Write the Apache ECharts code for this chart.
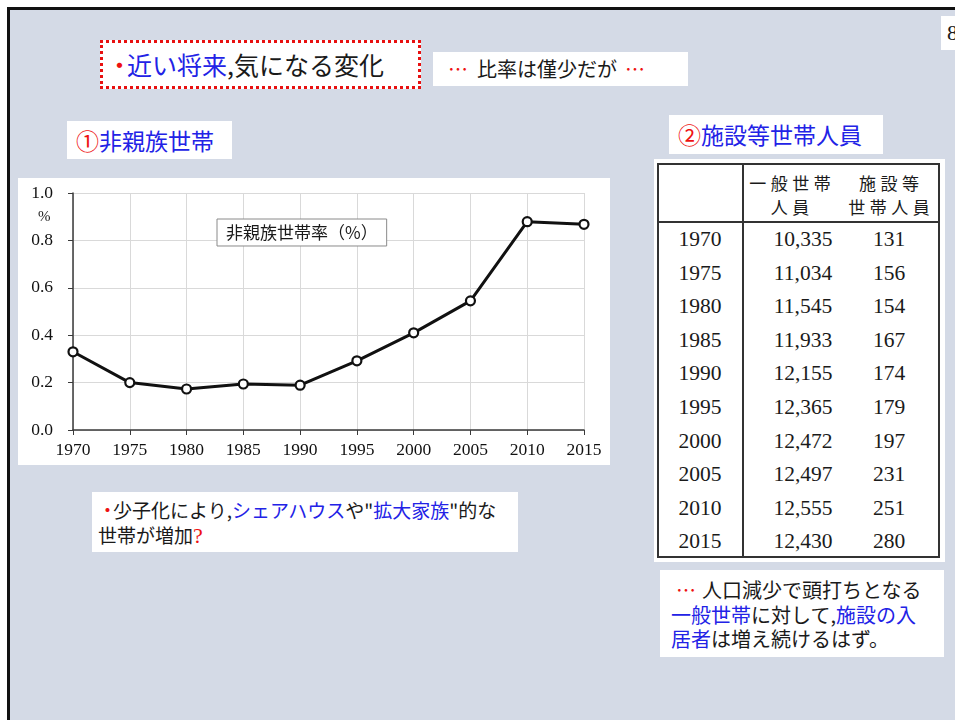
<!DOCTYPE html>
<html>
<head>
<meta charset="utf-8">
<script src="https://cdn.jsdelivr.net/npm/echarts@6/dist/echarts.min.js"></script>
<style>
  html, body { margin:0; padding:0; width:955px; height:720px; overflow:hidden; background:#fff; }
  #slide { position:absolute; left:7px; top:7px; width:1000px; height:760px; border:3px solid #111; background:#d4dae6; }
  .abs { position:absolute; }
  .box { position:absolute; background:#fff; box-sizing:border-box; }
  .jp { font-family:"Noto Sans CJK JP", "Noto Sans", sans-serif; color:#1a1a1a; }
  .blue { color:#2222e6; }
  .red { color:#ee1111; }
  .serif { font-family:"Liberation Serif", "DejaVu Serif", serif; color:#1a1a1a; }
  #chart { position:absolute; left:18px; top:178px; width:592px; height:287px; background:#fff; }
</style>
</head>
<body>
<div id="slide"></div>

<!-- title -->
<div class="box jp" style="left:100px;top:40px;width:321px;height:49px;border:3px dotted #e81010;font-size:25px;line-height:43px;padding-left:4px;white-space:nowrap;">
  <span class="red" style="letter-spacing:-5px;">・</span><span class="blue">近い将来</span>,気になる変化
</div>
<div class="box jp" style="left:433px;top:52px;width:255px;height:34px;font-size:20px;line-height:34px;padding-left:15px;white-space:nowrap;">
  <span class="red">…</span><span style="margin-left:9px;">比率は僅少だが</span><span class="red" style="margin-left:8px;">…</span>
</div>
<div class="box jp" style="left:67px;top:121px;width:165px;height:38px;font-size:23px;line-height:38px;padding-left:9px;white-space:nowrap;">
  <span class="red">①</span><span class="blue">非親族世帯</span>
</div>
<div class="box jp" style="left:669px;top:115px;width:214px;height:39px;font-size:23px;line-height:39px;padding-left:9px;white-space:nowrap;">
  <span class="red">②</span><span class="blue">施設等世帯人員</span>
</div>
<div class="box serif" style="left:941px;top:16px;width:30px;height:34px;font-size:22px;line-height:34px;padding-left:6px;">8</div>

<div id="chart"></div>

<div class="box jp" style="left:92px;top:492px;width:426px;height:60px;font-size:19px;line-height:25px;padding-top:5px;padding-left:6px;white-space:nowrap;">
  <span class="red" style="letter-spacing:-4px;">・</span>少子化により,<span class="blue">シェアハウス</span>や"<span class="blue">拡大家族</span>"的な<br>世帯が増加<span class="red" style="font-family:'Liberation Serif',serif;font-size:22px;">?</span>
</div>

<!-- table -->
<div class="box" style="left:654px;top:159px;width:291px;height:403px;"></div>
<div id="table" class="abs" style="left:657px;top:163px;width:283px;height:395px;border:2px solid #333;box-sizing:border-box;"></div>

<div class="box jp" style="left:660px;top:570px;width:284px;height:87px;font-size:20px;line-height:24.5px;padding-top:8px;padding-left:11px;white-space:nowrap;">
  <span class="red" style="margin-left:5px;">…</span><span style="margin-left:6px;">人口減少で頭打ちとなる</span><br><span class="blue">一般世帯</span>に対して,<span class="blue">施設の入</span><br><span class="blue">居者</span>は増え続けるはず。
</div>

<script>
// ---- data ----
const years = ['1970','1975','1980','1985','1990','1995','2000','2005','2010','2015'];
const nonKinRate = [0.330, 0.200, 0.173, 0.194, 0.189, 0.292, 0.410, 0.545, 0.879, 0.868];
const yTicks = [0, 0.2, 0.4, 0.6, 0.8, 1.0];
const generalHouseholdMembers = [10335, 11034, 11545, 11933, 12155, 12365, 12472, 12497, 12555, 12430];
const facilityHouseholdMembers = [131, 156, 154, 167, 174, 179, 197, 231, 251, 280];
const tableHeader2 = ['一般世帯', '人員'];
const tableHeader3 = ['施設等', '世帯人員'];
const seriesName = '非親族世帯率（%）';

// ---- table ----
(function buildTable(){
  const t = document.getElementById('table');
  const fmt = n => n.toString().replace(/\B(?=(\d{3})+(?!\d))/g, ',');
  let html = '';
  html += '<div class="abs" style="left:0;top:56px;width:279px;height:2px;background:#333;"></div>';
  html += '<div class="abs" style="left:83px;top:0;width:2px;height:391px;background:#333;"></div>';
  const hdr = (lines, cx) => lines.map((s,i) =>
    '<div class="abs jp" style="left:'+(cx-70)+'px;width:140px;text-align:center;top:'+(6+i*24)+'px;font-size:17px;line-height:24px;letter-spacing:4.5px;text-indent:4.5px;">'+s+'</div>').join('');
  html += hdr(tableHeader2, 790-657-2);
  html += hdr(tableHeader3, 889-657-2);
  const rowTop = 58, rowH = 33.6;
  years.forEach((y,i) => {
    const top = rowTop + i*rowH;
    const cell = (txt, cx) => '<div class="abs serif" style="left:'+(cx-60)+'px;width:120px;text-align:center;top:'+top+'px;height:'+rowH+'px;line-height:'+rowH+'px;font-size:21.5px;">'+txt+'</div>';
    html += cell(y, 700-659);
    html += cell(fmt(generalHouseholdMembers[i]), 803-659);
    html += cell(String(facilityHouseholdMembers[i]), 889-659);
  });
  t.innerHTML = html;
})();

// ---- chart ----
const chart = echarts.init(document.getElementById('chart'), null, {renderer:'canvas'});
chart.setOption({
  animation:false,
  backgroundColor:'#fff',
  grid:{ left:55, right:26, top:15, bottom:35, containLabel:false },
  legend:{
    left:199, top:41,
    data:[seriesName],
    icon:'none',
    itemWidth:0, itemHeight:0, itemGap:0,
    padding:[5,9,5,4],
    borderColor:'#8a8a8a', borderWidth:1, backgroundColor:'#fff',
    textStyle:{ fontFamily:'"Noto Sans CJK JP", sans-serif', fontSize:17, color:'#1a1a1a' },
    selectedMode:false
  },
  xAxis:{
    type:'category', data:years, boundaryGap:false,
    axisLine:{ lineStyle:{ color:'#3a3a3a', width:1.5 } },
    axisTick:{ show:true, length:5, lineStyle:{ color:'#3a3a3a' } },
    axisLabel:{ fontFamily:'"Liberation Serif", serif', fontSize:17.5, color:'#111', margin:11 },
    splitLine:{ show:true, lineStyle:{ color:'#d9d9d9', width:1 } }
  },
  yAxis:{
    type:'value', min:yTicks[0], max:yTicks[yTicks.length-1], interval:0.2,
    axisLine:{ show:true, lineStyle:{ color:'#3a3a3a', width:1.5 } },
    axisTick:{ show:true, length:5, lineStyle:{ color:'#3a3a3a' } },
    axisLabel:{ fontFamily:'"Liberation Serif", serif', fontSize:17.5, color:'#111', margin:20, formatter:v => v.toFixed(1) },
    splitLine:{ show:true, lineStyle:{ color:'#d9d9d9', width:1 } }
  },
  graphic:[
    { type:'text', left:20, top:32, style:{ text:'%', font:'15px "Liberation Serif", serif', fill:'#1a1a1a' } }
  ],
  series:[{
    name:seriesName, type:'line', data:nonKinRate,
    symbol:'circle', symbolSize:9,
    lineStyle:{ color:'#111', width:3 },
    itemStyle:{ color:'#fff', borderColor:'#111', borderWidth:2.2 },
    z:3
  }]
});
</script>
</body>
</html>
